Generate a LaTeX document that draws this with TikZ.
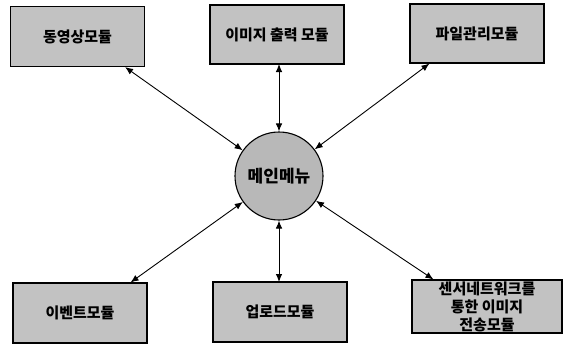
\documentclass[tikz,border=0pt]{standalone}
\usepackage{fontspec}
\newfontfamily\kr{Noto Sans CJK KR}
\usetikzlibrary{arrows.meta}
\definecolor{boxgray}{HTML}{C2C2C2}
\definecolor{circgray}{HTML}{B8B8B8}
\tikzset{
  modbox/.style={draw=black, line width=1.1pt, fill=boxgray, minimum width=134pt, minimum height=60pt, inner sep=0pt, align=center, font=\kr\bfseries\fontsize{15}{18}\selectfont},
  conn/.style={{Latex[length=8pt,width=6.5pt]}-{Latex[length=8pt,width=6.5pt]}, line width=0.9pt},
}
\begin{document}
\begin{tikzpicture}[x=1pt,y=-1pt]
\path[use as bounding box, fill=white] (0,0) rectangle (567,345);
\node[modbox] (tl) at (77.5,36.5) {동영상모듈};
\node[modbox, minimum height=59pt] (tm) at (277,34.5) {이미지 출력 모듈};
\node[modbox, minimum height=59pt] (tr) at (477,33.5) {파일관리모듈};
\node[modbox] (bl) at (80,313) {이벤트모듈};
\node[modbox] (bm) at (280,312) {업로드모듈};
\node[modbox, minimum width=150pt, minimum height=53pt] (br) at (487,306.5) {센서네트워크를\\통한 이미지\\전송모듈};
\node[circle, draw=black, line width=1.1pt, fill=circgray, minimum size=88pt, inner sep=0pt, font=\kr\bfseries\fontsize{17}{18}\selectfont] (menu) at (279,176) {메인메뉴};
\coordinate (atl) at ([xshift=-20pt]tl.south east);
\coordinate (atr) at ([xshift=20pt]tr.south west);
\coordinate (abl) at ([xshift=-17pt]bl.north east);
\coordinate (abr) at ([xshift=22pt]br.north west);
\coordinate (atm) at (279,64);
\coordinate (abm) at (279,282);
\draw[conn] (atl) -- (menu);
\draw[conn] (atr) -- (menu);
\draw[conn] (abl) -- (menu);
\draw[conn] (abr) -- (menu);
\draw[conn] (atm) -- (menu.north);
\draw[conn] (abm) -- (menu.south);
\end{tikzpicture}
\end{document}
